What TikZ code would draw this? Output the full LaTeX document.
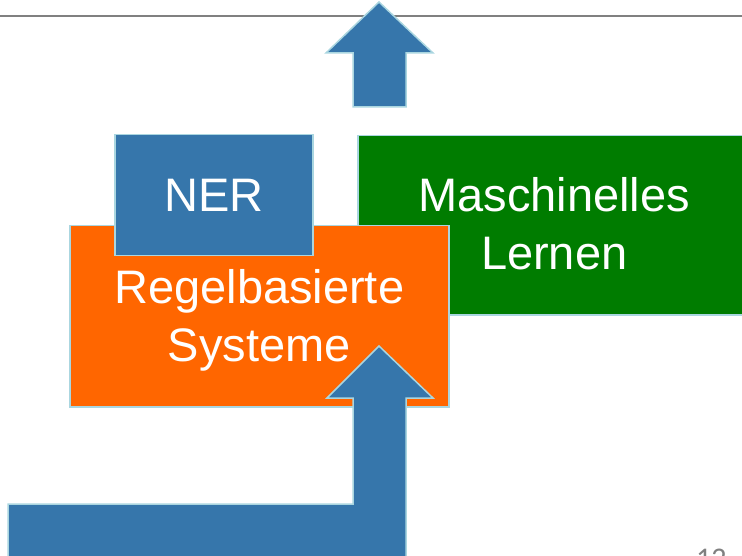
\documentclass[tikz,border=0pt]{standalone}
\usepackage{fontspec}
\setmainfont{Liberation Sans}
\newfontfamily\numfont{Carlito}
\definecolor{arrowblue}{RGB}{54,118,171}
\definecolor{edgeblue}{RGB}{170,214,224}
\definecolor{boxorange}{RGB}{255,102,0}
\definecolor{boxgreen}{RGB}{0,124,0}
\definecolor{rulegray}{RGB}{128,128,128}
\tikzset{
  box/.style={draw=edgeblue, line width=1.5pt, text=white, align=center, anchor=north west,
    inner sep=0pt, font=\fontsize{47}{57.5}\selectfont},
  bigarrow/.style={fill=arrowblue, draw=edgeblue, line width=1.5pt, line join=miter}
}
\begin{document}
\begin{tikzpicture}[x=1pt,y=-1pt]
\useasboundingbox (0,0) rectangle (742,556);
\clip (0,0) rectangle (742,556);
% top rule
\draw[rulegray, line width=2pt] (0,16) -- (742,16);
% top arrow
\filldraw[bigarrow] (379,2) -- (433,53) -- (406,53) -- (406,107) -- (353,107) -- (353,53) -- (326,53) -- cycle;
% green box
\node[box, fill=boxgreen, minimum width=393pt, minimum height=179pt, text height=88pt, text depth=0pt]
  (ml) at (357,135) {Maschinelles\\Lernen};
% orange box
\node[box, fill=boxorange, minimum width=379pt, minimum height=181pt, text height=90pt, text depth=0pt]
  (rb) at (69,225) {Regelbasierte\\Systeme};
% NER box
\node[box, fill=arrowblue, minimum width=198pt, minimum height=121pt, text height=33pt, text depth=0pt]
  (ner) at (114,134) {NER};
% bent-up arrow
\filldraw[bigarrow] (8,504) -- (353,504) -- (353,398) -- (327,398) -- (379,346) -- (433,398)
  -- (406,398) -- (406,570) -- (8,570) -- cycle;
% page number
\node[anchor=base west, text=rulegray, font=\numfont\fontsize{30}{36}\selectfont, inner sep=0pt]
  (num) at (696,568) {12};
\end{tikzpicture}
\end{document}
